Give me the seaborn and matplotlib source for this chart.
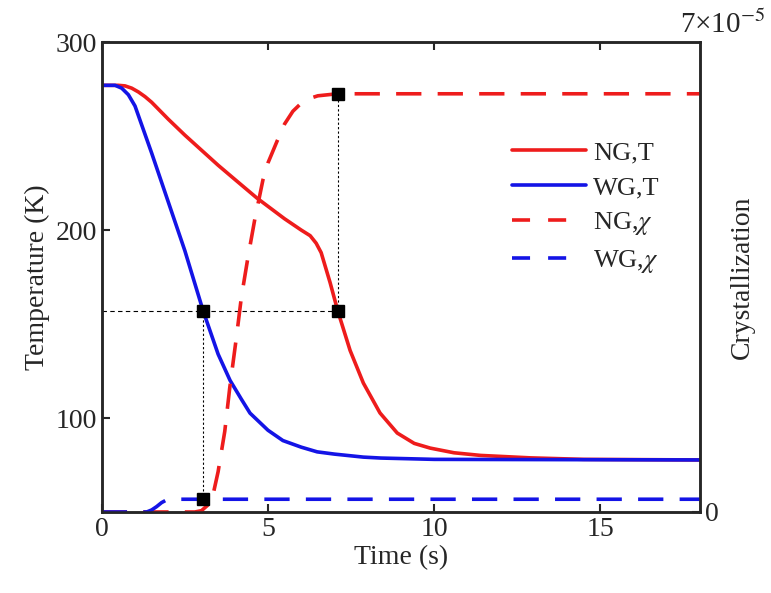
import numpy as np
import pandas as pd
import matplotlib
matplotlib.use("Agg")
import matplotlib.pyplot as plt
import seaborn as sns
from matplotlib.lines import Line2D

sns.set_style("ticks")
plt.rcParams['font.family'] = ['Liberation Serif', 'DejaVu Serif']
plt.rcParams['mathtext.fontset'] = 'stix'

# Temperature data (K)
t_ng = [0, 0.5, 0.7, 0.9, 1.1, 1.3, 1.5, 2.0, 2.5, 3.0, 3.5, 4.0, 4.67, 5.5, 6.0, 6.27, 6.45, 6.6,
        6.87, 7.1, 7.47, 7.87, 8.37, 8.89, 9.4, 9.88, 10.6, 11.4, 12.9, 14.5, 18]
T_ng = [277, 277, 276.7, 275.5, 273.5, 271, 268, 259, 250.5, 242.5, 234.5, 227, 217, 206, 200, 197,
        193, 188, 172, 157, 136, 118.6, 102.7, 92, 86.5, 84, 81.5, 80.1, 78.8, 78, 77.7]
t_wg = [0, 0.4, 0.6, 0.8, 1.0, 1.5, 2.0, 2.5, 3.05, 3.5, 3.86, 4.2, 4.46, 5.0, 5.45, 6.0,
        6.48, 7.0, 7.87, 8.4, 10, 18]
T_wg = [277, 277, 275.5, 272, 266, 241, 215, 189, 157, 134, 120, 110, 102.6, 93.5, 88, 84.5,
        82, 80.8, 79.2, 78.7, 78, 77.7]

# Crystallization data (x1e-5)
tc_ng = [0, 2.8, 3.0, 3.3, 3.5, 3.7, 3.85, 4.05, 4.2, 4.4, 4.6, 4.85, 5.0, 5.27, 5.5, 5.75,
         6.0, 6.25, 6.5, 7.08, 18]
c_ng = [0, 0, 0.02, 0.15, 0.6, 1.2, 1.85, 2.6, 3.2, 3.8, 4.35, 4.95, 5.2, 5.52, 5.78, 5.97,
        6.09, 6.16, 6.2, 6.23, 6.23]
tc_wg = [0, 1.35, 1.5, 1.65, 1.8, 1.95, 2.2, 18]
c_wg = [0, 0, 0.03, 0.08, 0.14, 0.18, 0.19, 0.19]

labels = ["NG,T", "WG,T", "NG,$\\chi$", "WG,$\\chi$"]

fig = plt.figure(figsize=(7.71, 5.93), dpi=100)
ax = fig.add_axes([0.132, 0.1366, 0.776, 0.7924])
ax2 = ax.twinx()

red = "#ee1c1c"
blue = "#1414e6"
lw = 2.6

df_ng = pd.DataFrame({"t": t_ng, "T": T_ng})
df_wg = pd.DataFrame({"t": t_wg, "T": T_wg})
sns.lineplot(data=df_ng, x="t", y="T", ax=ax, color=red, lw=lw)
sns.lineplot(data=df_wg, x="t", y="T", ax=ax, color=blue, lw=lw)

dfc_ng = pd.DataFrame({"t": tc_ng, "c": np.array(c_ng) * 1e-5})
dfc_wg = pd.DataFrame({"t": tc_wg, "c": np.array(c_wg) * 1e-5})
sns.lineplot(data=dfc_ng, x="t", y="c", ax=ax2, color=red, lw=lw)
sns.lineplot(data=dfc_wg, x="t", y="c", ax=ax2, color=blue, lw=lw)
for l in ax2.lines:
    l.set_dashes((7, 4.5))

# guide lines and markers
ax.plot([0, 7.1], [157, 157], color="k", lw=0.8, ls=(0, (4, 3)))
ax.plot([3.05, 3.05], [157, 50 + (0.19 / 7) * 250], color="k", lw=0.8, ls=(0, (2, 2)))
ax.plot([7.1, 7.1], [157, 50 + (6.23 / 7) * 250], color="k", lw=0.8, ls=(0, (2, 2)))
ax.plot([3.05, 7.1], [157, 157], ls="none", marker="s", ms=8, color="k", zorder=5)
ax2.plot([3.05, 7.1], [0.19e-5, 6.23e-5], ls="none", marker="s", ms=8, color="k", zorder=5)

ax.set_xlim(0, 18)
ax.set_ylim(50, 300)
ax2.set_ylim(0, 7e-5)
ax.set_xticks([0, 5, 10, 15])
ax.set_yticks([100, 200, 300])
ax2.set_yticks([0])
ax2.set_yticklabels(["0"])
ax.set_xlabel("Time (s)", fontsize=20, labelpad=2)
ax.set_ylabel("Temperature (K)", fontsize=20, labelpad=4)
ax2.set_ylabel("Crystallization", fontsize=20, labelpad=8)
ax.tick_params(axis="both", direction="in", labelsize=20, width=1.5, length=6, top=True)
ax.tick_params(axis="y", right=False)
ax2.tick_params(axis="y", direction="in", labelsize=20, width=1.5, length=6)
for sp in ax.spines.values():
    sp.set_linewidth(1.8)
for sp in ax2.spines.values():
    sp.set_linewidth(1.8)
fig.text(0.993, 0.958, "7×10$^{-5}$", fontsize=21, ha="right", va="center")

handles = [
    Line2D([], [], color=red, lw=lw),
    Line2D([], [], color=blue, lw=lw),
    Line2D([], [], color=red, lw=lw, dashes=(5, 5, 5, 40)),
    Line2D([], [], color=blue, lw=lw, dashes=(5, 5, 5, 40)),
]
ax2.legend(handles, labels, loc="upper right", bbox_to_anchor=(0.972, 0.84), frameon=False,
           fontsize=19, handlelength=2.8, handletextpad=0.25, labelspacing=0.42)

fig.savefig("out.png", dpi=100)
